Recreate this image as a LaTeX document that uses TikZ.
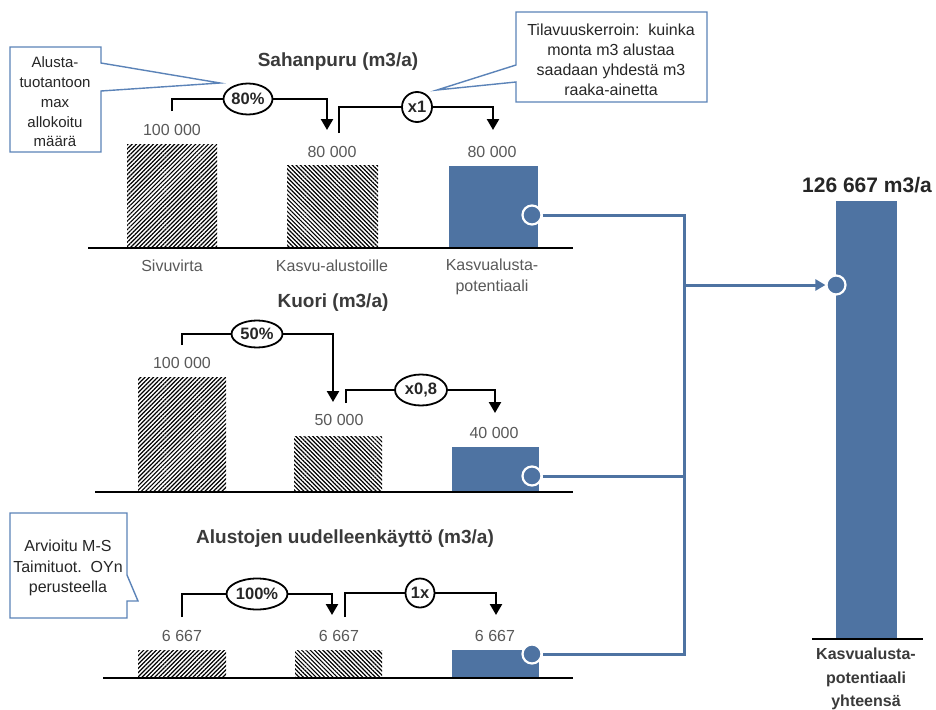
\documentclass[tikz,border=0pt]{standalone}
\usepackage{fontspec}
\setmainfont{Liberation Sans}
\usetikzlibrary{arrows.meta,patterns.meta,shapes.geometric}
\definecolor{barblue}{HTML}{4E73A2}
\definecolor{callblue}{HTML}{5B83B8}
\definecolor{lblgrey}{HTML}{595959}
\definecolor{ttlgrey}{HTML}{3A3A3A}
\definecolor{txtdark}{HTML}{262626}
\begin{document}
\begin{tikzpicture}[x=1pt,y=-1pt,
 bar/.style={inner sep=0pt,outer sep=0pt,anchor=south west},
 hatchA/.style={bar,pattern={Lines[angle=45,distance=3pt,line width=1.2pt]},pattern color=black},
 hatchB/.style={bar,pattern={Lines[angle=-45,distance=3pt,line width=1.2pt]},pattern color=black},
 bluebar/.style={bar,fill=barblue},
 lbl/.style={text=lblgrey,font=\fontsize{16}{21}\selectfont,inner sep=0pt,align=center},
 ttl/.style={text=ttlgrey,font=\bfseries\fontsize{19}{22}\selectfont,inner sep=0pt},
 pell/.style={ellipse,draw=black,line width=1.8pt,inner sep=0pt,font=\bfseries\fontsize{16.5}{18}\selectfont,fill=white,text=txtdark},
 pcirc/.style={circle,draw=black,line width=1.8pt,inner sep=0pt,font=\bfseries\fontsize{16.5}{18}\selectfont,fill=white,text=txtdark},
 flow/.style={draw=black,line width=2.4pt,line join=miter},
 flowarr/.style={flow,-{Triangle[width=12pt,length=11pt]}},
 baseln/.style={draw=black,line width=2.3pt},
 dotmark/.style={circle,fill=barblue,draw=white,line width=2.2pt,minimum size=19pt,inner sep=0pt},
 conn/.style={draw=barblue,line width=3pt,line join=miter},
 callout/.style={draw=callblue,line width=1.4pt,fill=white,line join=miter},
 ctext/.style={text=txtdark,align=center,inner sep=0pt}
]
\useasboundingbox (0,0) rectangle (936,709);
\fill[white] (0,0) rectangle (936,709);

% ---------- callouts ----------
\draw[callout] (10,47) -- (101,47) -- (101,63) -- (220,83) -- (101,91) -- (101,152) -- (10,152) -- cycle;
\node[ctext,font=\fontsize{15}{19.7}\selectfont] (call1) at (55,102) {Alusta-\\tuotantoon\\max\\allokoitu\\määrä};

\draw[callout] (516,12) -- (707,12) -- (707,102) -- (516,102) -- (516,82) -- (437,90) -- (516,65) -- cycle;
\node[ctext,font=\fontsize{16}{20}\selectfont] (call2) at (611,60) {Tilavuuskerroin:\ \ kuinka\\monta m3 alustaa\\saadaan yhdestä m3\\raaka-ainetta};

\draw[callout] (10,513) -- (127,513) -- (127,575) -- (138,601) -- (127,601) -- (127,618) -- (10,618) -- cycle;
\node[ctext,font=\fontsize{16}{20.5}\selectfont] (call3) at (68,568) {Arvioitu M-S\\Taimituot.\ \ OYn\\perusteella};

% ---------- section 1 : Sahanpuru ----------
\node[ttl] (t1) at (338,62) {Sahanpuru (m3/a)};
\node[hatchA,minimum width=90pt,minimum height=104pt] (b11) at (127,248) {};
\node[hatchB,minimum width=91pt,minimum height=83pt] (b12) at (287,248) {};
\node[bluebar,minimum width=89pt,minimum height=82pt] (b13) at (449,248) {};
\coordinate (l1a) at (88,248); \coordinate (l1b) at (573,248);
\draw[baseln] (l1a) -- (l1b);
\node[lbl] (v11) at (172,130) {100 000};
\node[lbl] (v12) at (332,152) {80 000};
\node[lbl] (v13) at (492,152) {80 000};
\node[lbl] (c11) at (172,266) {Sivuvirta};
\node[lbl] (c12) at (332,266) {Kasvu-alustoille};
\node[lbl] (c13) at (492,276.5) {Kasvualusta-\\potentiaali};

\node[pell,minimum width=49pt,minimum height=31pt] (e1) at (248,99) {80\%};
\coordinate (s1a) at (172,111); \coordinate (s1b) at (327,130);
\draw[flow] (s1a) |- (e1.west);
\draw[flowarr] (e1.east) -| (s1b);
\node[pcirc,minimum size=30pt] (k1) at (417,107) {x1};
\coordinate (s1c) at (339,133); \coordinate (s1d) at (493,130);
\draw[flow] (s1c) |- (k1.west);
\draw[flowarr] (k1.east) -| (s1d);

% ---------- section 2 : Kuori ----------
\node[ttl] (t2) at (333,303) {Kuori (m3/a)};
\node[hatchA,minimum width=88pt,minimum height=115pt] (b21) at (138,492) {};
\node[hatchB,minimum width=88pt,minimum height=56pt] (b22) at (294,492) {};
\node[bluebar,minimum width=87pt,minimum height=45pt] (b23) at (452,492) {};
\coordinate (l2a) at (95,492); \coordinate (l2b) at (573,492);
\draw[baseln] (l2a) -- (l2b);
\node[lbl] (v21) at (182,363) {100 000};
\node[lbl] (v22) at (339,420) {50 000};
\node[lbl] (v23) at (494,433) {40 000};

\node[pell,minimum width=51pt,minimum height=27pt] (e2) at (257,334) {50\%};
\coordinate (s2a) at (182,345); \coordinate (s2b) at (333,402);
\draw[flow] (s2a) |- (e2.west);
\draw[flowarr] (e2.east) -| (s2b);
\node[pell,minimum width=52pt,minimum height=31pt] (e3) at (421,390) {x0,8};
\coordinate (s2c) at (346,403); \coordinate (s2d) at (495,413);
\draw[flow] (s2c) |- (e3.west);
\draw[flowarr] (e3.east) -| (s2d);

% ---------- section 3 : Alustojen uudelleenkaytto ----------
\node[ttl] (t3) at (345,539) {Alustojen uudelleenkäyttö (m3/a)};
\node[hatchA,minimum width=88pt,minimum height=28pt] (b31) at (138,678) {};
\node[hatchB,minimum width=87pt,minimum height=28pt] (b32) at (295,678) {};
\node[bluebar,minimum width=87pt,minimum height=28pt] (b33) at (452,678) {};
\coordinate (l3a) at (103,678); \coordinate (l3b) at (573,678);
\draw[baseln] (l3a) -- (l3b);
\node[lbl] (v31) at (182,636) {6 667};
\node[lbl] (v32) at (339,636) {6 667};
\node[lbl] (v33) at (495,636) {6 667};

\node[pell,minimum width=61pt,minimum height=31pt] (e4) at (257,594) {100\%};
\coordinate (s3a) at (182,617); \coordinate (s3b) at (332,615);
\draw[flow] (s3a) |- (e4.west);
\draw[flowarr] (e4.east) -| (s3b);
\node[pcirc,minimum size=29pt] (k2) at (420,593) {1x};
\coordinate (s3c) at (345,617); \coordinate (s3d) at (496,615);
\draw[flow] (s3c) |- (k2.west);
\draw[flowarr] (k2.east) -| (s3d);

% ---------- total ----------
\node[bluebar,minimum width=61pt,minimum height=438pt] (tot) at (836,639) {};
\coordinate (l4a) at (812,639); \coordinate (l4b) at (923,639);
\draw[baseln] (l4a) -- (l4b);
\node[text=txtdark,font=\bfseries\fontsize{21}{24}\selectfont,inner sep=0pt] (tv) at (867,185) {126 667 m3/a};
\node[text=ttlgrey,font=\bfseries\fontsize{16}{23.5}\selectfont,inner sep=0pt,align=center] (tl) at (866,679) {Kasvualusta-\\potentiaali\\yhteensä};

% ---------- markers & connectors ----------
\node[dotmark] (m1) at (532,215) {};
\node[dotmark] (m2) at (532,476) {};
\node[dotmark] (m3) at (532,654) {};
\node[dotmark] (mt) at (836,285) {};
\coordinate (jtop) at (684,215);
\coordinate (j) at (684,285);
\coordinate (jbot) at (684,654);
\draw[conn] (m1.east) -- (jtop) -- (jbot) -- (m3.east);
\draw[conn] (m2.east) -- (m2.east -| j);
\draw[conn,-{Triangle[width=11pt,length=10pt]}] (j) -- (mt.west);
\end{tikzpicture}
\end{document}
